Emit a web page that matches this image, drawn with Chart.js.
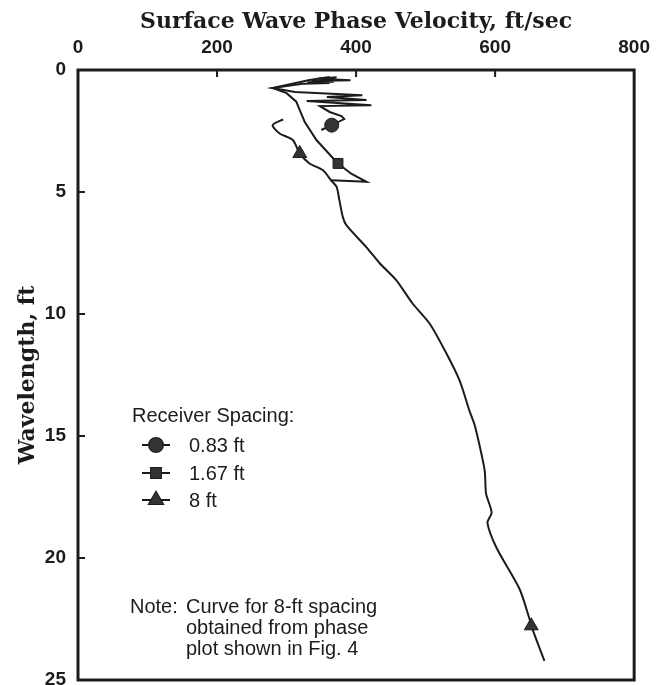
<!DOCTYPE html>
<html><head><meta charset="utf-8">
<script src="https://cdn.jsdelivr.net/npm/chart.js@4/dist/chart.umd.min.js"></script>
<style>html,body{margin:0;padding:0;background:#fff;overflow:hidden}canvas{display:block}</style>
</head><body><canvas id="c" width="661" height="685" style="width:661px;height:685px"></canvas>
<script>
// ---- data ----
const xTickValues = [0, 200, 400, 600, 800];
const yTickValues = [0, 5, 10, 15, 20, 25];
const xTitle = 'Surface Wave Phase Velocity, ft/sec';
const yTitle = 'Wavelength, ft';
const legendTitle = 'Receiver Spacing:';
const seriesNames = ['0.83 ft', '1.67 ft', '8 ft'];
const noteLines = ['Curve for 8-ft spacing', 'obtained from phase', 'plot shown in Fig. 4'];

// 0.83 ft spacing
const vel083 = [372, 345, 392, 336, 368, 330, 362, 323, 280, 312, 409, 358, 415, 329, 422, 348, 362, 379, 383, 365, 350];
const wl083  = [0.30, 0.36, 0.42, 0.45, 0.48, 0.50, 0.53, 0.56, 0.74, 0.90, 1.03, 1.11, 1.23, 1.27, 1.44, 1.48, 1.72, 1.89, 2.01, 2.26, 2.46];
// 1.67 ft spacing
const vel167 = [362, 333, 280, 300, 314, 319, 326, 343, 360, 374, 393, 415, 390, 364];
const wl167  = [0.29, 0.41, 0.74, 0.95, 1.30, 1.64, 2.12, 2.87, 3.40, 3.83, 4.25, 4.58, 4.55, 4.52];
// 8 ft spacing
const vel8 = [295, 280, 290, 309, 319, 333, 352, 364, 372, 376, 381, 386, 415, 434, 458, 481, 506, 530, 549, 563, 570, 577, 585, 587, 595, 589, 602, 635, 649, 652, 671];
const wl8  = [2.02, 2.26, 2.60, 2.87, 3.42, 3.83, 4.10, 4.52, 4.79, 5.34, 6.03, 6.36, 7.27, 7.92, 8.62, 9.56, 10.40, 11.62, 12.73, 13.96, 14.50, 15.31, 16.42, 17.36, 18.14, 18.56, 19.58, 21.26, 22.45, 22.78, 24.22];

// marker points
const markVel083 = [365], markWl083 = [2.26];
const markVel167 = [374], markWl167 = [3.83];
const markVel8 = [319, 652], markWl8 = [3.42, 22.78];

const pts = (xs, ys) => xs.map((x, i) => ({x, y: ys[i]}));
const INK = '#1c1c1c';
const MARK = '#333333';

const lineDs = (label, xs, ys, tension) => ({
  label, data: pts(xs, ys), showLine: true, borderColor: INK, borderWidth: 2,
  pointRadius: 0, tension, fill: false, order: 2
});
const markDs = (label, xs, ys, style, r) => ({
  label, data: pts(xs, ys), showLine: false, pointStyle: style, pointRadius: r,
  backgroundColor: MARK, borderColor: INK, borderWidth: 1, order: 1
});

const markerStyles = ['circle', 'rect', 'triangle'];

const decor = {
  id: 'decor',
  afterDraw(chart) {
    const {ctx, chartArea: a, scales} = chart;
    ctx.save();
    // frame
    ctx.strokeStyle = INK; ctx.lineWidth = 3;
    ctx.strokeRect(a.left, a.top, a.right - a.left, a.bottom - a.top);
    // inward ticks
    ctx.lineWidth = 2;
    xTickValues.slice(1, -1).forEach(v => {
      const px = scales.x.getPixelForValue(v);
      ctx.beginPath(); ctx.moveTo(px, a.top); ctx.lineTo(px, a.top + 7); ctx.stroke();
    });
    yTickValues.slice(1, -1).forEach(v => {
      const py = scales.y.getPixelForValue(v);
      ctx.beginPath(); ctx.moveTo(a.left, py); ctx.lineTo(a.left + 7, py); ctx.stroke();
    });
    // legend
    ctx.fillStyle = INK;
    ctx.font = '20px "Liberation Sans", Arial, sans-serif';
    ctx.textBaseline = 'alphabetic'; ctx.textAlign = 'left';
    ctx.fillText(legendTitle, 132, 422);
    const rowY = [445, 473, 500];
    const radii = [7, 7, 8];
    seriesNames.forEach((name, i) => {
      const y = rowY[i];
      ctx.strokeStyle = INK; ctx.lineWidth = 2;
      ctx.beginPath(); ctx.moveTo(142, y); ctx.lineTo(170, y); ctx.stroke();
      ctx.fillStyle = MARK;
      Chart.helpers.drawPoint(ctx, {pointStyle: markerStyles[i], radius: radii[i], rotation: 0, borderWidth: 1}, 156, y);
      ctx.fill();
      ctx.fillStyle = INK;
      ctx.textBaseline = 'middle';
      ctx.fillText(name, 189, y + 1);
    });
    // note
    ctx.textBaseline = 'alphabetic';
    ctx.fillText('Note:', 130, 613);
    noteLines.forEach((t, i) => ctx.fillText(t, 186, 613 + i * 21));
    ctx.restore();
  }
};

new Chart(document.getElementById('c'), {
  type: 'scatter',
  data: {
    datasets: [
      lineDs(seriesNames[0], vel083, wl083, 0),
      lineDs(seriesNames[1], vel167, wl167, 0),
      lineDs(seriesNames[2], vel8, wl8, 0.25),
      markDs(seriesNames[0], markVel083, markWl083, 'circle', 7),
      markDs(seriesNames[1], markVel167, markWl167, 'rect', 7),
      markDs(seriesNames[2], markVel8, markWl8, 'triangle', 8)
    ]
  },
  options: {
    responsive: false, maintainAspectRatio: false, animation: false,
    layout: {autoPadding: false, padding: {top: 0, left: 0, right: 26, bottom: 5}},
    plugins: {legend: {display: false}, tooltip: {enabled: false}},
    scales: {
      x: {
        type: 'linear', position: 'top', min: 0, max: 800,
        afterBuildTicks: s => { s.ticks = xTickValues.map(v => ({value: v})); },
        afterFit: s => { s.height = 70; s.paddingBottom = 0; },
        ticks: {color: INK, padding: 11, font: {family: '"Liberation Sans", Arial, sans-serif', weight: 'bold', size: 19}},
        grid: {display: false, drawTicks: false},
        border: {display: false},
        title: {display: true, text: xTitle, color: INK, padding: {top: 9, bottom: 0},
          font: {family: '"DejaVu Serif", serif', weight: 'bold', size: 22}}
      },
      y: {
        type: 'linear', reverse: true, min: 0, max: 25,
        afterBuildTicks: s => { s.ticks = yTickValues.map(v => ({value: v})); },
        afterFit: s => { s.width = 78; s.paddingBottom = 0; s.paddingTop = 0; },
        ticks: {color: INK, padding: 12, font: {family: '"Liberation Sans", Arial, sans-serif', weight: 'bold', size: 19}},
        grid: {display: false, drawTicks: false},
        border: {display: false},
        title: {display: true, text: yTitle, color: INK, padding: {top: 15, bottom: 0},
          font: {family: '"DejaVu Serif", serif', weight: 'bold', size: 22}}
      }
    }
  },
  plugins: [decor]
});
</script></body></html>
